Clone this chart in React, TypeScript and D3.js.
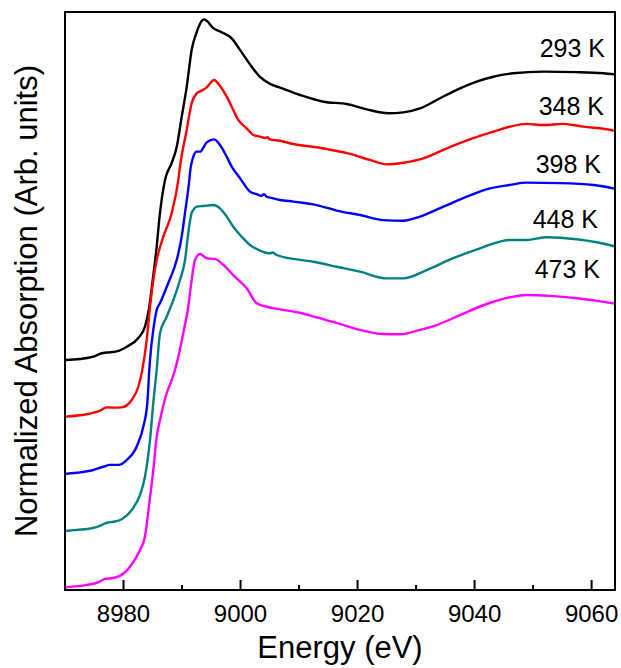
import React from "react";
import * as d3 from "d3";

// Cu K-edge XANES spectra at several temperatures, vertically stacked.
// Each series: [energy (eV), normalized absorption incl. stacking offset]
const series293K: [number, number][] = [
  [8970.0, 0.995], [8972.56, 0.999], [8974.84, 1.009], [8976.27, 1.024], [8977.13, 1.027],
  [8978.84, 1.032], [8980.55, 1.052], [8982.53, 1.09], [8983.67, 1.139], [8984.41, 1.225],
  [8984.99, 1.341], [8985.67, 1.485], [8986.1, 1.6], [8987.09, 1.773], [8988.24, 1.847],
  [8989.09, 1.916], [8989.94, 2.046], [8990.8, 2.176], [8991.65, 2.336], [8992.51, 2.413],
  [8993.36, 2.461], [8993.76, 2.468], [8994.22, 2.462], [8995.35, 2.43], [8996.78, 2.412],
  [8998.49, 2.386], [8999.91, 2.336], [9001.91, 2.263], [9003.33, 2.219], [9005.04, 2.189],
  [9006.75, 2.173], [9010.16, 2.141], [9014.15, 2.112], [9018.15, 2.102], [9021.56, 2.079],
  [9025.26, 2.062], [9027.82, 2.066], [9030.67, 2.083], [9034.09, 2.127], [9037.51, 2.17],
  [9040.36, 2.199], [9043.2, 2.22], [9046.62, 2.235], [9051.75, 2.242], [9057.45, 2.24],
  [9062.0, 2.235], [9064.0, 2.23],
];

const series348K: [number, number][] = [
  [8970.0, 0.75], [8973.71, 0.76], [8975.98, 0.776], [8977.13, 0.79], [8978.26, 0.789],
  [8979.69, 0.79], [8981.4, 0.822], [8982.53, 0.879], [8983.2, 0.95],
  [8983.96, 1.081], [8984.53, 1.225], [8985.09, 1.341], [8985.67, 1.427], [8986.8, 1.528],
  [8988.24, 1.631], [8989.36, 1.773], [8989.65, 1.831], [8990.8, 1.99], [8991.65, 2.106],
  [8992.51, 2.148], [8993.36, 2.16], [8994.22, 2.174], [8995.47, 2.206], [8996.49, 2.18],
  [8997.64, 2.134], [8998.76, 2.076], [8999.62, 2.033], [9001.05, 1.997], [9002.18, 1.968],
  [9003.33, 1.961], [9004.2, 1.955], [9004.6, 1.958], [9005.04, 1.949], [9006.75, 1.943],
  [9009.02, 1.929], [9013.02, 1.915], [9018.71, 1.886], [9022.13, 1.86], [9024.98, 1.841],
  [9027.82, 1.848], [9031.24, 1.867], [9035.24, 1.91], [9039.78, 1.954], [9043.2, 1.982],
  [9046.05, 2.004], [9048.91, 2.016], [9051.75, 2.011], [9055.16, 2.016], [9058.58, 2.004],
  [9063.71, 1.987], [9064.0, 1.985],
];

const series398K: [number, number][] = [
  [8970.0, 0.502], [8972.0, 0.507], [8974.84, 0.519], [8976.55, 0.533], [8977.69, 0.541],
  [8979.11, 0.541], [8980.55, 0.562], [8982.25, 0.62], [8983.38, 0.706], [8984.07, 0.809],
  [8984.41, 0.952], [8984.53, 0.995], [8985.09, 1.125], [8985.67, 1.211], [8986.24, 1.241],
  [8987.65, 1.328], [8989.09, 1.427], [8989.94, 1.528], [8990.51, 1.631], [8991.24, 1.773],
  [8991.36, 1.804], [8991.93, 1.874], [8992.51, 1.896], [8993.07, 1.896], [8994.22, 1.936],
  [8995.47, 1.949], [8996.49, 1.925], [8997.64, 1.874], [8998.49, 1.831], [8999.91, 1.781],
  [9001.62, 1.723], [9002.76, 1.712], [9003.6, 1.705], [9004.0, 1.712], [9004.47, 1.701],
  [9005.6, 1.694], [9006.75, 1.687], [9009.02, 1.68], [9013.02, 1.665], [9016.44, 1.641],
  [9020.42, 1.622], [9024.4, 1.6], [9027.82, 1.597], [9030.67, 1.615], [9034.66, 1.658],
  [9038.65, 1.701], [9042.64, 1.737], [9046.05, 1.752], [9048.91, 1.762], [9054.6, 1.76],
  [9060.29, 1.752], [9063.71, 1.737], [9064.0, 1.735],
];

const series448K: [number, number][] = [
  [8970.0, 0.255], [8972.0, 0.26], [8974.56, 0.267], [8976.27, 0.281], [8977.13, 0.291],
  [8978.26, 0.295], [8979.69, 0.306], [8981.4, 0.346], [8982.82, 0.411], [8983.67, 0.49],
  [8984.53, 0.649], [8985.09, 0.809], [8985.67, 0.952], [8986.24, 1.112], [8987.38, 1.182],
  [8988.51, 1.254], [8989.65, 1.341], [8990.51, 1.427], [8991.07, 1.544], [8991.65, 1.631],
  [8991.93, 1.644], [8992.51, 1.658], [8993.64, 1.661], [8995.35, 1.665], [8996.49, 1.651],
  [8997.64, 1.615], [8998.76, 1.571], [9000.2, 1.528], [9001.62, 1.492], [9003.33, 1.468],
  [9005.04, 1.456], [9005.5, 1.46], [9006.18, 1.449], [9009.6, 1.43], [9012.44, 1.42],
  [9016.44, 1.398], [9020.42, 1.377], [9024.98, 1.348], [9027.82, 1.348], [9031.82, 1.384],
  [9036.36, 1.435], [9040.93, 1.478], [9046.05, 1.514], [9048.91, 1.514], [9052.33, 1.526],
  [9057.45, 1.517], [9063.71, 1.488], [9064.0, 1.486],
];

const series473K: [number, number][] = [
  [8970.0, 0.012], [8973.71, 0.022], [8975.69, 0.033], [8976.84, 0.048], [8977.98, 0.051],
  [8979.4, 0.061], [8981.11, 0.101], [8982.82, 0.173], [8983.67, 0.231], [8984.41, 0.375],
  [8985.09, 0.519], [8985.67, 0.663], [8986.24, 0.735], [8987.38, 0.851], [8988.24, 0.908],
  [8988.8, 0.952], [8989.36, 1.009], [8990.22, 1.112], [8991.07, 1.225], [8991.65, 1.341],
  [8992.22, 1.427], [8993.07, 1.453], [8994.22, 1.435], [8995.64, 1.432], [8997.06, 1.406],
  [8998.76, 1.362], [9001.05, 1.305], [9002.76, 1.24], [9004.47, 1.225], [9006.75, 1.214],
  [9010.16, 1.199], [9013.02, 1.179], [9017.0, 1.151], [9020.42, 1.125], [9024.4, 1.107],
  [9027.25, 1.106], [9030.67, 1.125], [9033.53, 1.146], [9037.51, 1.189], [9042.07, 1.237],
  [9046.05, 1.266], [9048.91, 1.276], [9052.89, 1.272], [9057.45, 1.262], [9063.71, 1.24],
  [9064.0, 1.239],
];

const temperatures = ["293 K", "348 K", "398 K", "448 K", "473 K"];
const seriesColors = ["#000000", "#ff0000", "#0000ff", "#008080", "#ff00ff"];
const allSeries = [series293K, series348K, series398K, series448K, series473K];

const xTicks = [8980, 9000, 9020, 9040, 9060];
const xMinorTicks = [8970, 8990, 9010, 9030, 9050];

const WIDTH = 621;
const HEIGHT = 668;
const margin = { left: 65, right: 6, top: 12, bottom: 78 };
const FONT = "'Liberation Sans', Arial, Helvetica, sans-serif";

// label anchor (right end) and baseline offsets for each temperature label
const labelPos = [
  { dx: -10, y: 57 },
  { dx: -11, y: 115 },
  { dx: -14, y: 173 },
  { dx: -17, y: 228 },
  { dx: -15, y: 278 },
];

export default function App() {
  const x = d3
    .scaleLinear()
    .domain([8970, 9064])
    .range([margin.left, WIDTH - margin.right]);
  const y = d3
    .scaleLinear()
    .domain([0, 2.5])
    .range([HEIGHT - margin.bottom, margin.top]);

  const line = d3
    .line<[number, number]>()
    .x((d) => x(d[0]))
    .y((d) => y(d[1]))
    .curve(d3.curveMonotoneX);

  const x0 = x.range()[0];
  const x1 = x.range()[1];
  const y0 = y.range()[0];
  const y1 = y.range()[1];

  return (
    <svg
      width={WIDTH}
      height={HEIGHT}
      style={{ position: "absolute", left: 0, top: 0, background: "#fff" }}
      fontFamily={FONT}
    >
      <defs>
        <clipPath id="plot-area">
          <rect x={x0} y={y1} width={x1 - x0} height={y0 - y1} />
        </clipPath>
      </defs>

      <g clipPath="url(#plot-area)">
        {allSeries.map((s, i) => (
          <path
            key={temperatures[i]}
            d={line(s) ?? ""}
            fill="none"
            stroke={seriesColors[i]}
            strokeWidth={2.4}
            strokeLinejoin="round"
          />
        ))}
      </g>

      {/* frame */}
      <rect
        x={x0}
        y={y1}
        width={x1 - x0}
        height={y0 - y1}
        fill="none"
        stroke="#000"
        strokeWidth={2}
      />

      {/* bottom ticks, pointing inward */}
      {xTicks.map((t) => (
        <line key={`M${t}`} x1={x(t)} x2={x(t)} y1={y0} y2={y0 - 10} stroke="#000" strokeWidth={2} />
      ))}
      {xMinorTicks.map((t) => (
        <line key={`m${t}`} x1={x(t)} x2={x(t)} y1={y0} y2={y0 - 5} stroke="#000" strokeWidth={2} />
      ))}
      {xTicks.map((t) => (
        <text key={`L${t}`} x={x(t)} y={y0 + 32} textAnchor="middle" fontSize={24} fill="#000">
          {t}
        </text>
      ))}

      <text x={(x0 + x1) / 2} y={658} textAnchor="middle" fontSize={31} fill="#000">
        Energy (eV)
      </text>
      <text
        transform={`translate(37, ${(y0 + y1) / 2}) rotate(-90)`}
        textAnchor="middle"
        fontSize={31}
        fill="#000"
      >
        Normalized Absorption (Arb. units)
      </text>

      {temperatures.map((t, i) => (
        <text
          key={`T${t}`}
          x={x1 + labelPos[i].dx}
          y={labelPos[i].y}
          textAnchor="end"
          fontSize={25}
          fill="#000"
        >
          {t}
        </text>
      ))}
    </svg>
  );
}
